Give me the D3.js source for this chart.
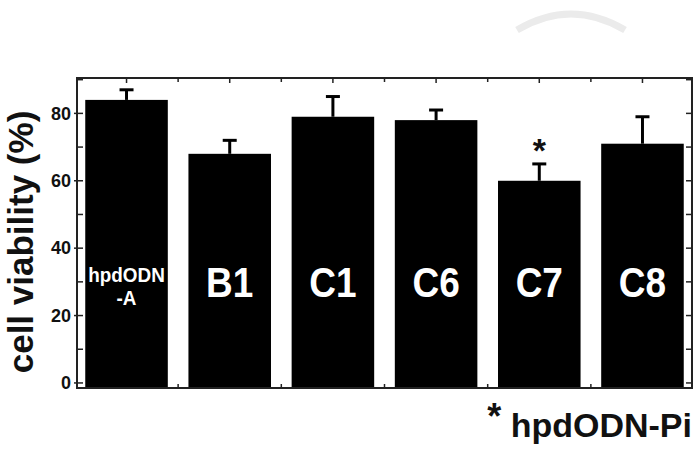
<!DOCTYPE html>
<html><head><meta charset="utf-8">
<script src="https://cdn.jsdelivr.net/npm/d3@7"></script>
<style>body{margin:0;background:#fff}svg{display:block}</style>
</head><body>
<svg id="c" width="697" height="459"></svg>
<script>
const categories = ["hpdODN-A","B1","C1","C6","C7","C8"];
const labelLines = [["hpdODN","-A"],["B1"],["C1"],["C6"],["C7"],["C8"]];
const values = [84, 68, 79, 78, 60, 71];
const errors = [3, 4, 6, 3, 5, 8];
const significant = [false,false,false,false,true,false];
const yTicks = [0,20,40,60,80];
const yMinor = [0,10,20,30,40,50,60,70,80,90];

const FONT = "Liberation Sans, Arial, Helvetica, sans-serif";
const svg = d3.select("#c");
const L = 77, R = 692, T = 78, B = 388;
const x = d3.scaleBand().domain(categories).range([L,R]).paddingInner(0.2).paddingOuter(0.08);
const y = d3.scaleLinear().domain([-1.5, 90.5]).range([B,T]);

// watermark
svg.append("path").attr("d","M517,30 Q571,-2 625,30").attr("fill","none")
  .attr("stroke","#ebebeb").attr("stroke-width",7);

// bars
svg.append("g").selectAll("rect").data(values).join("rect")
  .attr("x",(d,i)=>x(categories[i])).attr("width",x.bandwidth())
  .attr("y",d=>y(d)).attr("height",d=>y(-1.5)-y(d)).attr("fill","#000");

// error bars
const eg = svg.append("g").attr("stroke","#000").attr("stroke-width",3);
values.forEach((v,i)=>{
  const cx = x(categories[i]) + x.bandwidth()/2;
  eg.append("line").attr("x1",cx).attr("x2",cx).attr("y1",y(v)).attr("y2",y(v+errors[i]));
  eg.append("line").attr("x1",cx-7).attr("x2",cx+7).attr("y1",y(v+errors[i])).attr("y2",y(v+errors[i]));
});

// frame
svg.append("rect").attr("x",L).attr("y",T).attr("width",R-L).attr("height",B-T)
  .attr("fill","none").attr("stroke","#222").attr("stroke-width",2);

// left axis
const la = svg.append("g").attr("transform",`translate(${L},0)`)
  .call(d3.axisLeft(y).tickValues(yTicks).tickSize(0).tickPadding(6));
la.select(".domain").remove();
la.selectAll("text").attr("font-family",FONT)
  .attr("font-weight","bold").attr("font-size",18).attr("fill","#111");
// ticks
const tg = svg.append("g").attr("stroke","#222").attr("stroke-width",1.5);
yMinor.forEach(t=>{
  tg.append("line").attr("x1",L).attr("x2",L+6).attr("y1",y(t)).attr("y2",y(t));
  tg.append("line").attr("x1",R-6).attr("x2",R).attr("y1",y(t)).attr("y2",y(t));
});
yTicks.forEach(t=>{
  tg.append("line").attr("x1",L-3).attr("x2",L).attr("y1",y(t)).attr("y2",y(t));
});
categories.forEach((c,i)=>{
  const cx = x(c)+x.bandwidth()/2;
  tg.append("line").attr("x1",cx).attr("x2",cx).attr("y1",T).attr("y2",T+5);
  if(i>0){
    const bx = x(c) - x.step()*x.paddingInner()/2;
    tg.append("line").attr("x1",bx).attr("x2",bx).attr("y1",T).attr("y2",T+4);
    tg.append("line").attr("x1",bx).attr("x2",bx).attr("y1",B).attr("y2",B-4);
  }
});

// bar labels
categories.forEach((c,i)=>{
  const cx = x(c)+x.bandwidth()/2;
  const lines = labelLines[i];
  if(lines.length===1){
    svg.append("text").attr("transform",`translate(${cx},297) scale(0.86,1)`).attr("text-anchor","middle")
      .attr("font-family",FONT).attr("font-weight","bold")
      .attr("font-size",43).attr("fill","#fff").text(lines[0]);
  } else {
    [282,305].forEach((by,k)=>{
      svg.append("text").attr("transform",`translate(${cx},${by}) scale(0.9,1)`).attr("text-anchor","middle")
        .attr("font-family",FONT).attr("font-weight","bold")
        .attr("font-size",21).attr("fill","#fff").text(lines[k]);
    });
  }
  if(significant[i]){
    svg.append("text").attr("x",cx).attr("y",y(values[i]+errors[i])-2).attr("text-anchor","middle")
      .attr("font-family",FONT).attr("font-weight","bold")
      .attr("font-size",34).attr("fill","#111").text("*");
  }
});

// y axis title
svg.append("text").attr("transform","translate(33,242) rotate(-90)").attr("text-anchor","middle")
  .attr("font-family",FONT).attr("font-weight","bold")
  .attr("font-size",35).attr("fill","#111").text("cell viability (%)");

// footnote
const fn = svg.append("text").attr("x",692).attr("y",437).attr("text-anchor","end")
  .attr("font-family",FONT).attr("font-weight","bold")
  .attr("font-size",34).attr("fill","#111");
fn.append("tspan").attr("font-size",36).attr("dy",-8).text("*");
fn.append("tspan").attr("dy",8).text(" hpdODN-Pi");
</script>
</body></html>
